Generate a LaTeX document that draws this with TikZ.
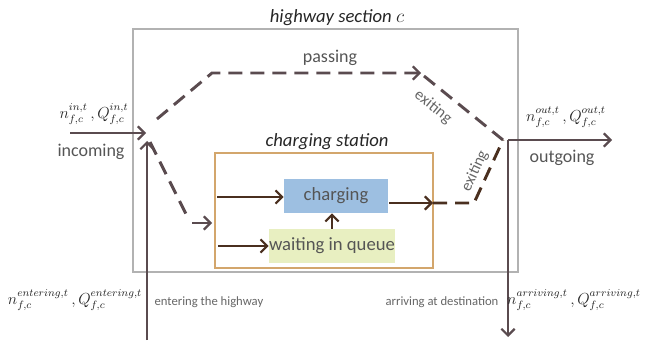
\documentclass[tikz,border=0pt]{standalone}
\usepackage{fontspec}
\setmainfont{Carlito}
\usetikzlibrary{arrows.meta}
\definecolor{flow}{HTML}{5A4B4F}
\definecolor{inner}{HTML}{4A2F1F}
\definecolor{frame}{HTML}{B2B2B2}
\definecolor{station}{HTML}{D3A66C}
\definecolor{chargefill}{HTML}{9DBFE1}
\definecolor{queuefill}{HTML}{E8EFC1}
\definecolor{txt}{HTML}{555555}
\tikzset{
  tip/.style={-{Straight Barb[length=5pt,width=10pt,line width=1.6pt]}},
  flowline/.style={draw=flow, line width=2.2pt},
  flowdash/.style={flowline, dash pattern=on 10.5pt off 6pt},
  innerline/.style={draw=inner, line width=2.2pt},
  innerdash/.style={innerline, dash pattern=on 10.5pt off 6pt},
  lbl/.style={text=txt, font=\fontsize{13.5}{15}\selectfont, inner sep=1pt},
  small/.style={text=txt!90, font=\fontsize{9.5}{11}\selectfont, inner sep=1pt},
  tilted/.style={text=txt!90, font=\fontsize{12}{14}\selectfont, inner sep=0pt},
  maths/.style={text=black!85, font=\fontsize{11.5}{14}\selectfont, inner sep=1pt},
  title/.style={text=black!85, font=\fontsize{14}{16}\selectfont\itshape, inner sep=1pt},
  state/.style={text=txt, font=\fontsize{14}{16}\selectfont, inner sep=0pt,
    minimum height=25.5pt},
}
\begin{document}
\begin{tikzpicture}[x=0.75pt, y=-0.75pt]
\useasboundingbox (0,0) rectangle (645,345);

% highway section frame and its title
\node (hw) [draw=frame, line width=2pt, minimum width=288.75pt,
  minimum height=182.25pt, inner sep=0pt] at (325.5,150.5) {};
\node (hwtitle) [title] at (337,18) {highway section $c$};

% charging station with its two states
\node (cs) [draw=station, line width=1.6pt, minimum width=163.5pt,
  minimum height=86.25pt, inner sep=0pt] at (324,210.5) {};
\node (cstitle) [title] at (327,142) {charging station};
\node (charging) [state, fill=chargefill, minimum width=78pt] at (336,196) {charging};
\node (queue) [state, fill=queuefill, minimum width=94.5pt] at (332,246) {waiting in queue};

% junction points of the flows
\coordinate (inA) at (70,133);
\coordinate (inB) at (146,133);
\coordinate (entA) at (147,340);
\coordinate (entB) at (147,141);
\coordinate (pass0) at (157,119);
\coordinate (pass1) at (212,73);
\coordinate (pass2) at (421,73);
\coordinate (exit0) at (424,76);
\coordinate (merge) at (503,140);
\coordinate (down0) at (150,142);
\coordinate (down1) at (187,216);
\coordinate (enter0) at (192,223);
\coordinate (enter1) at (212,223);
\coordinate (cin0) at (217,197);
\coordinate (qin0) at (218,246);
\coordinate (cout0) at (389,203);
\coordinate (cout1) at (433,203);
\coordinate (cout2) at (474,203);
\coordinate (out0) at (508,140);
\coordinate (out1) at (612,140);
\coordinate (arr1) at (508,337);

% incoming and entering flows
\draw[flowline, tip] (inA) -- (inB);
\draw[flowline, tip] (entA) -- (entB);

% passing traffic
\draw[flowdash] (pass0) -- (pass1) -- (pass2);
\draw[flowline, tip] ([xshift=-2pt]pass2) -- (pass2);
\draw[flowdash] (exit0) -- (merge);

% traffic into the charging station
\draw[flowdash] (down0) -- (down1);
\draw[flowline, tip] (enter0) -- (enter1);
\draw[innerline, tip] (cin0) -- (cin0 -| charging.west);
\draw[innerline, tip] (qin0) -- (qin0 -| queue.west);
\draw[innerline, tip] (queue.north) -- (charging.south -| queue.north);
\draw[innerline, tip] (cout0) -- (cout1);
\draw[innerdash] (cout1) -- (cout2) -- (merge);

% outgoing and arriving flows
\draw[flowline, tip] (out0) -- (out1);
\draw[flowline, tip] (out0) -- (arr1);

% labels
\node (inmath) [maths] at (94,114) {$n^{in,t}_{f,c}\,,Q^{in,t}_{f,c}$};
\node (inlbl) [lbl] at (91,152) {incoming};
\node (outmath) [maths] at (566,117) {$n^{out,t}_{f,c}\,,Q^{out,t}_{f,c}$};
\node (outlbl) [lbl] at (562,158) {outgoing};
\node (entmath) [maths] at (75,300) {$n^{entering,t}_{f,c}\,,Q^{entering,t}_{f,c}$};
\node (entlbl) [small, anchor=west] at (153,302) {entering the highway};
\node (arrmath) [maths] at (574,300) {$n^{arriving,t}_{f,c}\,,Q^{arriving,t}_{f,c}$};
\node (arrlbl) [small, anchor=east] at (500,302) {arriving at destination};
\node (passlbl) [lbl] at (330,58) {passing};
\node (exitlbl1) [tilted, rotate=-39] at (433,107) {exiting};
\node (exitlbl2) [tilted, rotate=65] at (475,171) {exiting};
\end{tikzpicture}
\end{document}
